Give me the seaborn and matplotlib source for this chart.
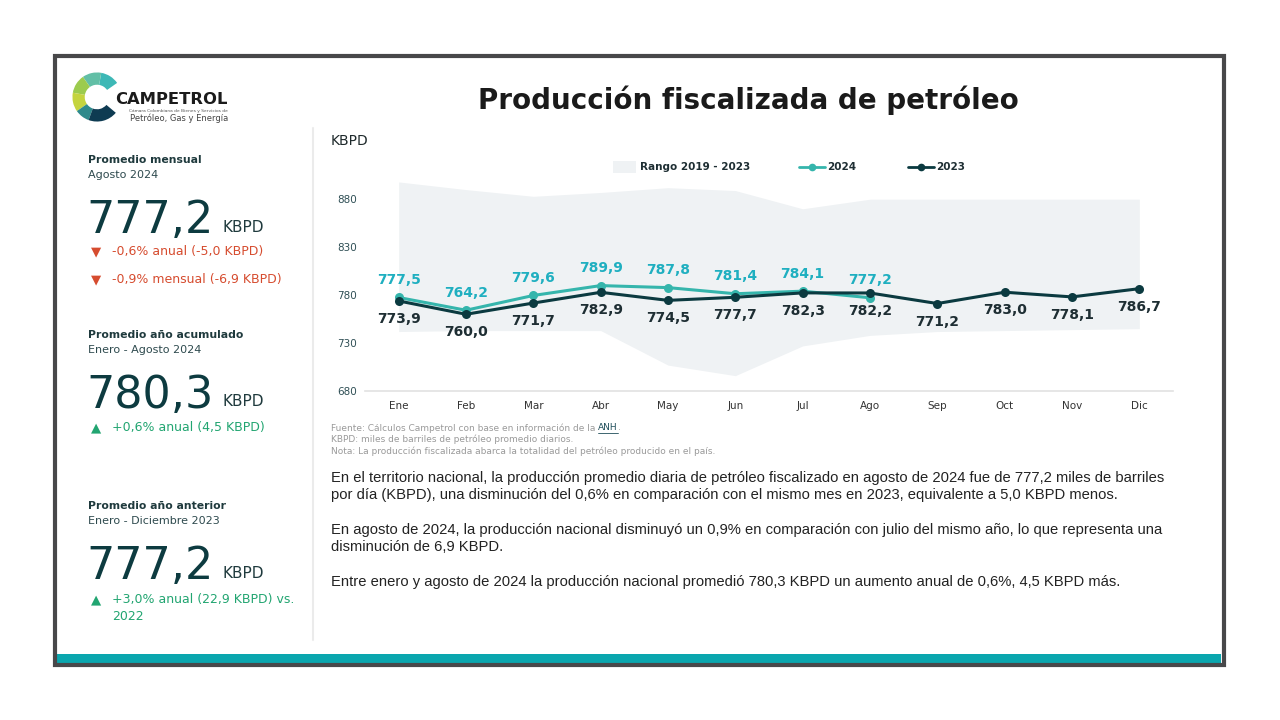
import matplotlib
matplotlib.use('Agg')
import matplotlib.pyplot as plt
import seaborn as sns
import pandas as pd
from matplotlib.patches import Rectangle, Wedge
from matplotlib.lines import Line2D

# ---------------- data ----------------
months = ['Ene', 'Feb', 'Mar', 'Abr', 'May', 'Jun', 'Jul', 'Ago', 'Sep', 'Oct', 'Nov', 'Dic']
prod_2024 = [777.5, 764.2, 779.6, 789.9, 787.8, 781.4, 784.1, 777.2]
prod_2023 = [773.9, 760.0, 771.7, 782.9, 774.5, 777.7, 782.3, 782.2, 771.2, 783.0, 778.1, 786.7]
range_low = [742, 743, 743, 743, 707, 696, 727, 738, 742, 743, 744, 745]
range_high = [898, 890, 883, 887, 892, 889, 870, 880, 880, 880, 880, 880]
y_ticks = [680, 730, 780, 830, 880]

sns.set_theme(style='white')
plt.rcParams['font.family'] = ['DejaVu Sans']

W, H = 1280, 720
fig = plt.figure(figsize=(12.8, 7.2), dpi=100)
fig.patch.set_facecolor('white')


def fx(x):
    return x / W


def fy(y):
    return 1 - y / H


# ---------------- frame ----------------
fig.add_artist(Rectangle((fx(57), fy(666)), (1221 - 57) / W, 12 / H,
                         transform=fig.transFigure, facecolor='#0AA6AE', edgecolor='none'))
fig.add_artist(Rectangle((fx(55), fy(665)), (1224 - 55) / W, (665 - 56) / H,
                         transform=fig.transFigure, fill=False, edgecolor='#48484A', linewidth=3))
fig.add_artist(Line2D([fx(313), fx(313)], [fy(128), fy(640)], transform=fig.transFigure,
                      color='#EBEBEB', linewidth=1.5))

# ---------------- logo ----------------
axl = fig.add_axes([fx(70), fy(124), 54 / W, 54 / H])
axl.set_xlim(-1.1, 1.1)
axl.set_ylim(-1.1, 1.1)
axl.set_aspect('equal')
axl.axis('off')
segs = [(35, 80, '#3DB8B6'), (80, 125, '#62BFA6'), (125, 170, '#9CCB4E'),
        (170, 215, '#C4D43E'), (215, 250, '#2E8A8C'), (250, 320, '#0E3B52')]
for t1, t2, c in segs:
    axl.add_patch(Wedge((0, 0), 1.0, t1, t2, width=0.5, facecolor=c, edgecolor='none'))
fig.text(fx(115), fy(100), 'CAMPETROL', fontsize=11.8, fontweight='bold', color='#1B1B1B',
         ha='left', va='center')
fig.text(fx(228), fy(111), 'Cámara Colombiana de Bienes y Servicios de', fontsize=3.2,
         color='#555555', ha='right', va='center')
fig.text(fx(228), fy(118), 'Petróleo, Gas y Energía', fontsize=6, color='#444444',
         ha='right', va='center')

# ---------------- title ----------------
fig.text(fx(748), fy(100), 'Producción fiscalizada de petróleo', fontsize=20, fontweight='bold',
         color='#1A1A1A', ha='center', va='center')

# ---------------- left panel ----------------
dark = '#0D3B40'
head = '#1F3A3D'
red = '#D64C2F'
green = '#22A571'


def block(y0, title, sub, big, lines, color, marker):
    fig.text(fx(88), fy(y0), title, fontsize=7.8, fontweight='bold', color=head, va='center')
    fig.text(fx(88), fy(y0 + 15), sub, fontsize=8, color='#2E4A4E', va='center')
    fig.text(fx(86), fy(y0 + 73), big, fontsize=32, color=dark, va='baseline')
    fig.text(fx(223), fy(y0 + 67), 'KBPD', fontsize=11, color=head, va='center')
    for yy, txt, mk in lines:
        if mk:
            fig.text(fx(91), fy(yy), marker, fontsize=9.5, color=color, va='center')
        fig.text(fx(112), fy(yy), txt, fontsize=9, color=color, va='center')


block(160, 'Promedio mensual', 'Agosto 2024', '777,2',
      [(252, '-0,6% anual (-5,0 KBPD)', True), (280, '-0,9% mensual (-6,9 KBPD)', True)], red, '▼')
block(335, 'Promedio año acumulado', 'Enero - Agosto 2024', '780,3',
      [(428, '+0,6% anual (4,5 KBPD)', True)], green, '▲')
block(506, 'Promedio año anterior', 'Enero - Diciembre 2023', '777,2',
      [(600, '+3,0% anual (22,9 KBPD) vs.', True), (616, '2022', False)], green, '▲')

# ---------------- chart ----------------
ax = fig.add_axes([fx(365), fy(391), (1173 - 365) / W, (391 - 180) / H])
ax.set_facecolor('white')
idx = list(range(len(months)))
ax.fill_between(idx, range_low, range_high, color='#EFF2F4', linewidth=0, zorder=0)

df = pd.concat([
    pd.DataFrame({'idx': idx[:len(prod_2024)], 'value': prod_2024, 'year': '2024'}),
    pd.DataFrame({'idx': idx, 'value': prod_2023, 'year': '2023'}),
])
c24 = '#35B5AC'
c23 = '#0B3A40'
sns.lineplot(data=df, x='idx', y='value', hue='year', hue_order=['2024', '2023'],
             palette={'2024': c24, '2023': c23}, marker='o', markersize=6.5,
             markeredgewidth=0, linewidth=2.2, legend=False, ax=ax, zorder=3)

lab24 = '#1FAFC0'
lab23 = '#1E2E33'
for i, v in enumerate(prod_2024):
    ax.annotate(f'{v:.1f}'.replace('.', ','), (i, v), xytext=(0, 12.5), textcoords='offset points',
                ha='center', va='center', fontsize=10, fontweight='bold', color=lab24, zorder=5)
for i, v in enumerate(prod_2023):
    ax.annotate(f'{v:.1f}'.replace('.', ','), (i, v), xytext=(0, -13), textcoords='offset points',
                ha='center', va='center', fontsize=10, fontweight='bold', color=lab23, zorder=5)

ax.set_xlim(-0.5, 11.5)
ax.set_ylim(680, 900)
ax.set_xticks(idx)
ax.set_xticklabels(months)
ax.set_yticks(y_ticks)
ax.set_xlabel('')
ax.set_ylabel('')
ax.tick_params(axis='y', length=0, pad=6, labelsize=7.5, labelcolor='#2F4F55')
ax.tick_params(axis='x', length=0, pad=7, labelsize=7.5, labelcolor='#333333')
for s in ['top', 'right', 'left']:
    ax.spines[s].set_visible(False)
ax.spines['bottom'].set_color('#E2E2E2')
ax.spines['bottom'].set_linewidth(1.2)
ax.grid(False)

fig.text(fx(331), fy(141), 'KBPD', fontsize=10, color='#1F2A2C', va='center')

# legend
fig.add_artist(Rectangle((fx(613), fy(173)), 23 / W, 12 / H, transform=fig.transFigure,
                         facecolor='#EFF2F4', edgecolor='none'))
fig.text(fx(640), fy(167), 'Rango 2019 - 2023', fontsize=7.5, fontweight='bold', color='#1E2E33',
         va='center')
for x0, col, lab in [(799, c24, '2024'), (908, c23, '2023')]:
    fig.add_artist(Line2D([fx(x0), fx(x0 + 26)], [fy(167), fy(167)], transform=fig.transFigure,
                          color=col, linewidth=2))
    fig.add_artist(Line2D([fx(x0 + 13)], [fy(167)], transform=fig.transFigure, color=col,
                          marker='o', markersize=5.5, markeredgewidth=0))
    fig.text(fx(x0 + 28), fy(167), lab, fontsize=7.5, fontweight='bold', color='#1E2E33',
             va='center')

# footnotes
foot = '#9A9A9A'
fsz = 6.5
t_src = fig.text(fx(331), fy(428), 'Fuente: Cálculos Campetrol con base en información de la ',
                 fontsize=fsz, color=foot, va='center')
renderer = fig.canvas.get_renderer()
bb = t_src.get_window_extent(renderer=renderer)
t_anh = fig.text(bb.x1 / W, fy(428), 'ANH', fontsize=fsz, color='#1F4E5A', va='center')
bb2 = t_anh.get_window_extent(renderer=renderer)
fig.add_artist(Line2D([bb2.x0 / W, bb2.x1 / W], [fy(432.5), fy(432.5)], transform=fig.transFigure,
                      color='#1F4E5A', linewidth=0.6))
fig.text(bb2.x1 / W, fy(428), '.', fontsize=fsz, color=foot, va='center')
fig.text(fx(331), fy(439.5), 'KBPD: miles de barriles de petróleo promedio diarios.', fontsize=fsz,
         color=foot, va='center')
fig.text(fx(331), fy(451), 'Nota: La producción fiscalizada abarca la totalidad del petróleo producido en el país.',
         fontsize=fsz, color=foot, va='center')

# body text
body_font = ['Liberation Sans', 'DejaVu Sans']
body = [
    (478, 'En el territorio nacional, la producción promedio diaria de petróleo fiscalizado en agosto de 2024 fue de 777,2 miles de barriles'),
    (495, 'por día (KBPD), una disminución del 0,6% en comparación con el mismo mes en 2023, equivalente a 5,0 KBPD menos.'),
    (530, 'En agosto de 2024, la producción nacional disminuyó un 0,9% en comparación con julio del mismo año, lo que representa una'),
    (547, 'disminución de 6,9 KBPD.'),
    (582, 'Entre enero y agosto de 2024 la producción nacional promedió 780,3 KBPD un aumento anual de 0,6%, 4,5 KBPD más.'),
]
for yy, t in body:
    fig.text(fx(331), fy(yy), t, fontsize=10.6, color='#222222', va='center', family=body_font)

fig.savefig('out.png', dpi=100, facecolor='white')
